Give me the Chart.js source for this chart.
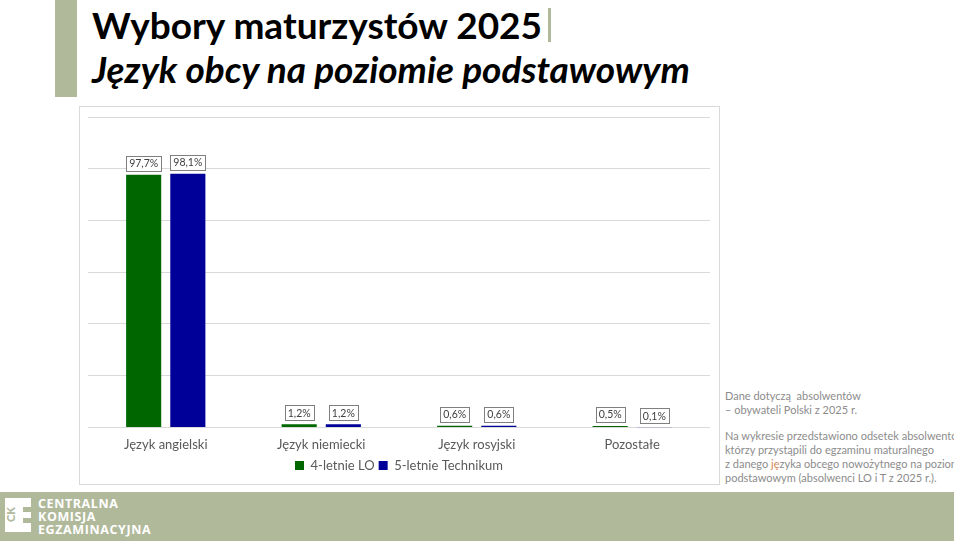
<!DOCTYPE html>
<html lang="pl">
<head>
<meta charset="utf-8">
<script src="https://cdn.jsdelivr.net/npm/chart.js@4"></script>
<style>
  body { margin: 0; width: 954px; height: 541px; background: #fff; font-family: Lato, sans-serif; position: relative; overflow: hidden; }
  .side-bar { position: absolute; left: 55px; top: 0; width: 22px; height: 97px; background: #b1b99b; }
  .title { position: absolute; left: 92px; top: 2px; font-size: 37px; font-weight: 700; color: #000; white-space: nowrap; }
  .title .pipe { display: inline-block; width: 3px; height: 34px; background: #b1b99b; margin-left: 6px; vertical-align: -3px; }
  .subtitle { position: absolute; left: 92px; top: 46px; font-size: 37px; font-weight: 700; font-style: italic; color: #000; white-space: nowrap; }
  .chart-box { position: absolute; left: 79px; top: 106px; width: 639px; height: 377px; border: 1px solid #d9d9d9; }
  .note { position: absolute; left: 725px; font-size: 11px; line-height: 14px; color: #8c8c8c; white-space: nowrap; }
  .note .hl { color: #d08a5a; }
  .footer { position: absolute; left: 0; top: 492px; width: 954px; height: 49px; background: #b1b99b; }
  .logo { position: absolute; left: 5px; top: 6px; width: 26px; height: 34px; background: #fff; }
  .logo .ck { position: absolute; left: -2px; top: 10px; font-size: 11px; font-weight: 900; color: #b1b99b; transform: rotate(-90deg); }
  .logo .cut { position: absolute; left: 18px; width: 8px; height: 5px; background: #b1b99b; }
  .org { position: absolute; left: 38px; top: 5px; font-size: 12.5px; line-height: 13px; font-weight: 700; color: #fff; letter-spacing: 0.6px; font-family: "Open Sans", sans-serif; }
</style>
</head>
<body>
<div class="side-bar"></div>
<div class="title">Wybory maturzystów 2025<span class="pipe"></span></div>
<div class="subtitle">Język obcy na poziomie podstawowym</div>
<div class="chart-box"><canvas id="chart" width="639" height="377"></canvas></div>
<div class="note" style="top: 389px;">Dane dotyczą&nbsp; absolwentów<br>– obywateli Polski z 2025 r.</div>
<div class="note" style="top: 429px;">Na wykresie przedstawiono odsetek absolwentów,<br>którzy przystąpili do egzaminu maturalnego<br>z danego <span class="hl">ję</span>zyka obcego nowożytnego na poziomie<br>podstawowym (absolwenci LO i T z 2025 r.).</div>
<div class="footer">
  <div class="logo"><span class="ck">CK</span><div class="cut" style="top: 9px;"></div><div class="cut" style="top: 20px;"></div></div>
  <div class="org">CENTRALNA<br>KOMISJA<br>EGZAMINACYJNA</div>
</div>
<script>
const categories = ['Język angielski', 'Język niemiecki', 'Język rosyjski', 'Pozostałe'];
const seriesNames = ['4-letnie LO', '5-letnie Technikum'];
const loValues = [97.7, 1.2, 0.6, 0.5];
const techValues = [98.1, 1.2, 0.6, 0.1];
const seriesColors = ['#006600', '#000099'];

const fmt = v => v.toFixed(1).replace('.', ',') + '%';

const boxedLabels = {
    id: 'boxedLabels',
    afterDatasetsDraw(chart) {
        const ctx = chart.ctx;
        ctx.save();
        ctx.font = '10.5px Lato, sans-serif';
        ctx.textAlign = 'center';
        ctx.textBaseline = 'middle';
        chart.data.datasets.forEach((ds, i) => {
            chart.getDatasetMeta(i).data.forEach((bar, j) => {
                const text = fmt(ds.data[j]);
                const w = ctx.measureText(text).width + 6;
                const h = 15;
                const x = bar.x - w / 2;
                const y = bar.y - 4 - h;
                ctx.fillStyle = '#fff';
                ctx.fillRect(x, y, w, h);
                ctx.strokeStyle = '#7f7f7f';
                ctx.lineWidth = 1;
                ctx.strokeRect(Math.round(x) + 0.5, Math.round(y) + 0.5, Math.round(w), h);
                ctx.fillStyle = '#404040';
                ctx.fillText(text, bar.x, y + h / 2 + 0.5);
            });
        });
        ctx.restore();
    }
};

new Chart(document.getElementById('chart'), {
    type: 'bar',
    data: {
        labels: categories,
        datasets: [
            { label: seriesNames[0], data: loValues, backgroundColor: seriesColors[0], categoryPercentage: 0.568, barPercentage: 0.795 },
            { label: seriesNames[1], data: techValues, backgroundColor: seriesColors[1], categoryPercentage: 0.568, barPercentage: 0.795 }
        ]
    },
    options: {
        responsive: false,
        animation: false,
        layout: { padding: { left: 8, right: 9, top: 10, bottom: 2 } },
        plugins: {
            legend: {
                position: 'bottom',
                labels: { boxWidth: 9, boxHeight: 9, padding: 4, color: '#595959', font: { family: 'Lato, sans-serif', size: 13 } }
            },
            tooltip: { enabled: false }
        },
        scales: {
            y: {
                min: 0, max: 120,
                ticks: { display: false, stepSize: 20 },
                grid: { color: '#d9d9d9', drawTicks: false },
                border: { display: false }
            },
            x: {
                grid: { display: false },
                border: { display: false },
                ticks: { color: '#595959', font: { family: 'Lato, sans-serif', size: 13 }, padding: 2 }
            }
        }
    },
    plugins: [boxedLabels]
});
</script>
</body>
</html>
